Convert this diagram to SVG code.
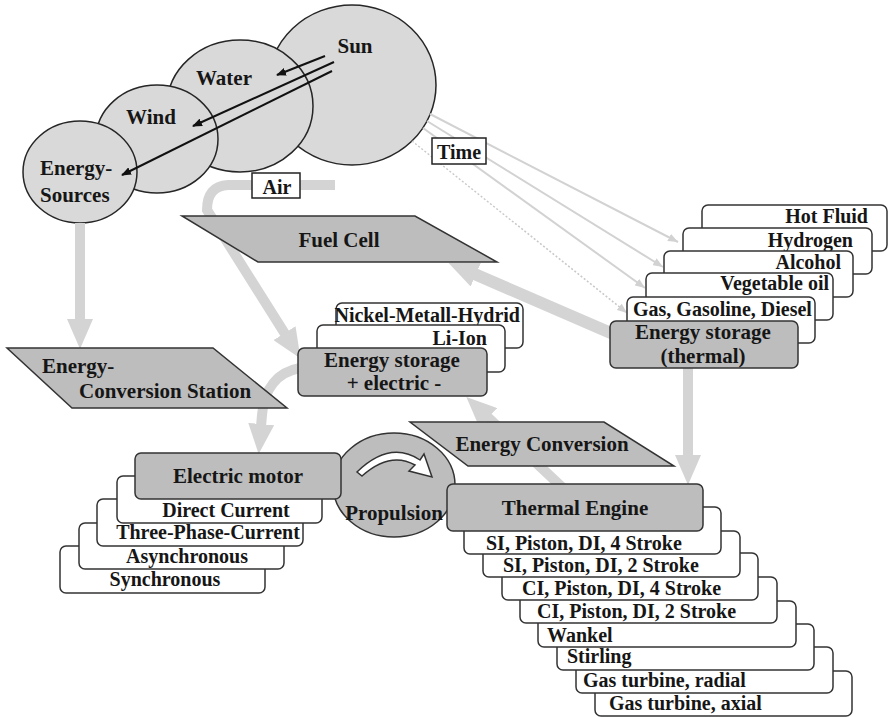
<svg xmlns="http://www.w3.org/2000/svg" width="888" height="717" viewBox="0 0 888 717">
<style>
  text{font-family:"Liberation Serif","Times New Roman",serif;font-weight:bold;fill:#161616}
  .s20{font-size:20px}
  .s21{font-size:21px}
  .mid{text-anchor:middle}
  .end{text-anchor:end}
  .src{fill:#d9d9d9;stroke:#262626;stroke-width:1.5}
  .hdr{fill:#bdbdbd;stroke:#333;stroke-width:1.5}
  .tab{fill:#fff;stroke:#333;stroke-width:1.5}
  .pg{fill:#bdbdbd;stroke:#333;stroke-width:1.5}
  .lbl{fill:#fff;stroke:#222;stroke-width:1.5}
  .flow{fill:none;stroke:#d4d4d4;stroke-width:10}
  .ray{fill:none;stroke:#d2d2d2;stroke-width:2}
  .dot{fill:none;stroke:#c8c8c8;stroke-width:1.5;stroke-dasharray:2 2}
  .sunray{fill:none;stroke:#111;stroke-width:2}
</style>
<defs>
  <marker id="bigHead" viewBox="0 0 30 26" refX="14" refY="13" markerWidth="30" markerHeight="26" markerUnits="userSpaceOnUse" orient="auto">
    <path d="M0,0 L30,13 L0,26 Z" fill="#d4d4d4"/>
  </marker>
  <marker id="rayHead" viewBox="0 0 10 8" refX="10" refY="4" markerWidth="10" markerHeight="8" markerUnits="userSpaceOnUse" orient="auto">
    <path d="M0,0 L10,4 L0,8 Z" fill="#d2d2d2"/>
  </marker>
  <marker id="blackHead" viewBox="0 0 10 8" refX="9" refY="4" markerWidth="10" markerHeight="8" markerUnits="userSpaceOnUse" orient="auto">
    <path d="M0,0 L10,4 L0,8 Z" fill="#111"/>
  </marker>
</defs>

<rect width="888" height="717" fill="#fff"/>

<!-- energy sources: overlapping circles, back to front -->
<g id="sun"><ellipse class="src" cx="352" cy="85" rx="84" ry="80"/><text class="s21 mid" x="355" y="53">Sun</text></g>
<g id="water"><ellipse class="src" cx="240" cy="106" rx="73" ry="66"/><text class="s21 mid" x="224" y="85">Water</text></g>
<g id="wind"><ellipse class="src" cx="157" cy="139" rx="61" ry="54"/><text class="s21 mid" x="151" y="124">Wind</text></g>
<g id="energy-sources"><ellipse class="src" cx="80" cy="172" rx="57" ry="51"/><text class="s21" x="40" y="175">Energy-</text><text class="s21" x="40" y="202">Sources</text></g>

<!-- connectors -->
<g id="connectors">
  <line class="sunray" x1="325" y1="56" x2="277" y2="75" marker-end="url(#blackHead)"/>
  <line class="sunray" x1="334" y1="62" x2="193" y2="126" marker-end="url(#blackHead)"/>
  <line class="sunray" x1="332" y1="71" x2="122" y2="175" marker-end="url(#blackHead)"/>
  <line class="ray" x1="430" y1="114" x2="678" y2="242" marker-end="url(#rayHead)"/>
  <line class="ray" x1="427" y1="121" x2="663" y2="267" marker-end="url(#rayHead)"/>
  <line class="ray" x1="423" y1="128" x2="645" y2="288" marker-end="url(#rayHead)"/>
  <line class="dot" x1="412" y1="141" x2="627" y2="313" marker-end="url(#rayHead)"/>
  <line class="flow" x1="80" y1="223" x2="80" y2="333" marker-end="url(#bigHead)"/>
  <path class="flow" d="M335,185 L228,185 Q207,186 207,210 L292,345" marker-end="url(#bigHead)"/>
  <line class="flow" style="stroke-width:12" x1="620" y1="337" x2="463" y2="269" marker-end="url(#bigHead)"/>
  <line class="flow" x1="688" y1="360" x2="688" y2="469" marker-end="url(#bigHead)"/>
  <line class="flow" x1="565" y1="490" x2="478" y2="408" marker-end="url(#bigHead)"/>
  <path class="flow" d="M300,368 C278,372 264,388 262,415 L260,438" marker-end="url(#bigHead)"/>
</g>

<!-- labels on the source rays -->
<g id="time"><rect class="lbl" x="432" y="138" width="54" height="26"/><text class="s20 mid" x="459" y="159">Time</text></g>
<g id="air"><rect class="lbl" x="252" y="173" width="48" height="25"/><text class="s20 mid" x="277" y="194">Air</text></g>

<!-- conversion parallelograms -->
<g id="fuel-cell"><polygon class="pg" points="182,216 415,216 497,262 258,262"/><text class="s21 mid" x="339" y="247">Fuel Cell</text></g>
<g id="conversion-station"><polygon class="pg" points="7,348 213,348 287,408 72,408"/><text class="s21" x="42" y="373">Energy-</text><text class="s21" x="79" y="398">Conversion Station</text></g>

<!-- thermal energy storage stack -->
<g id="thermal-storage">
  <rect class="tab" x="702" y="205" width="185" height="46" rx="6"/><text class="s20 end" x="868" y="223">Hot  Fluid</text>
  <rect class="tab" x="683" y="228" width="189" height="46" rx="6"/><text class="s20 end" x="853" y="247">Hydrogen</text>
  <rect class="tab" x="664" y="251" width="189" height="46" rx="6"/><text class="s20 end" x="841" y="269">Alcohol</text>
  <rect class="tab" x="646" y="273" width="187" height="47" rx="6"/><text class="s20 end" x="829" y="290">Vegetable oil</text>
  <rect class="tab" x="627" y="297" width="188" height="46" rx="6"/><text class="s20" x="633" y="316">Gas, Gasoline, Diesel</text>
  <rect class="hdr" x="610" y="321" width="188" height="47" rx="6"/>
  <text class="s21 mid" x="703" y="339">Energy storage</text><text class="s21 mid" x="703" y="363">(thermal)</text>
</g>

<!-- electric energy storage stack -->
<g id="electric-storage">
  <rect class="tab" x="336" y="303" width="187" height="45" rx="6"/><text class="s20 end" x="520" y="322">Nickel-Metall-Hydrid</text>
  <rect class="tab" x="317" y="325" width="188" height="47" rx="6"/><text class="s20 end" x="487" y="345">Li-Ion</text>
  <rect class="hdr" x="298" y="348" width="189" height="48" rx="6"/>
  <text class="s21 mid" x="392" y="367">Energy storage</text><text class="s21 mid" x="394" y="390">+ electric -</text>
</g>

<!-- propulsion -->
<g id="propulsion">
  <ellipse class="hdr" cx="394" cy="485" rx="61" ry="52"/>
  <path d="M357,472 Q390,440 420,460 L424,454 L432,477 L409,471 L415,465 Q390,451 362,476 Z" fill="#fff" stroke="#333" stroke-width="1.5"/>
  <text class="s21 mid" x="394" y="520">Propulsion</text>
</g>

<g id="energy-conversion"><polygon class="pg" points="410,422 604,422 674,466 468,466"/><text class="s21 mid" x="542" y="451">Energy Conversion</text></g>

<!-- electric motor stack -->
<g id="electric-motor">
  <rect class="tab" x="60" y="546" width="205" height="47" rx="6"/><text class="s20 mid" x="165" y="586">Synchronous</text>
  <rect class="tab" x="79" y="523" width="205" height="46" rx="6"/><text class="s20 mid" x="187" y="563">Asynchronous</text>
  <rect class="tab" x="97" y="499" width="206" height="47" rx="6"/><text class="s20 mid" x="208" y="539">Three-Phase-Current</text>
  <rect class="tab" x="117" y="476" width="205" height="47" rx="6"/><text class="s20 mid" x="226" y="517">Direct Current</text>
  <rect class="hdr" x="135" y="453" width="206" height="46" rx="6"/><text class="s21 mid" x="238" y="483">Electric motor</text>
</g>

<!-- thermal engine stack -->
<g id="thermal-engine">
  <rect class="tab" x="595" y="671" width="257" height="45" rx="6"/><text class="s20" x="609" y="710">Gas turbine, axial</text>
  <rect class="tab" x="576" y="647" width="257" height="46" rx="6"/><text class="s20" x="583" y="687">Gas turbine, radial</text>
  <rect class="tab" x="557" y="624" width="257" height="46" rx="6"/><text class="s20" x="567" y="663">Stirling</text>
  <rect class="tab" x="538" y="601" width="258" height="46" rx="6"/><text class="s20" x="547" y="642">Wankel</text>
  <rect class="tab" x="520" y="577" width="257" height="46" rx="6"/><text class="s20" x="537" y="618">CI, Piston, DI, 2 Stroke</text>
  <rect class="tab" x="502" y="553" width="256" height="47" rx="6"/><text class="s20" x="522" y="595">CI, Piston, DI, 4 Stroke</text>
  <rect class="tab" x="483" y="531" width="257" height="46" rx="6"/><text class="s20" x="503" y="572">SI, Piston, DI, 2 Stroke</text>
  <rect class="tab" x="464" y="507" width="257" height="47" rx="6"/><text class="s20" x="486" y="550">SI, Piston, DI, 4 Stroke</text>
  <rect class="hdr" x="447" y="484" width="256" height="47" rx="6"/><text class="s21 mid" x="575" y="515">Thermal Engine</text>
</g>
</svg>
